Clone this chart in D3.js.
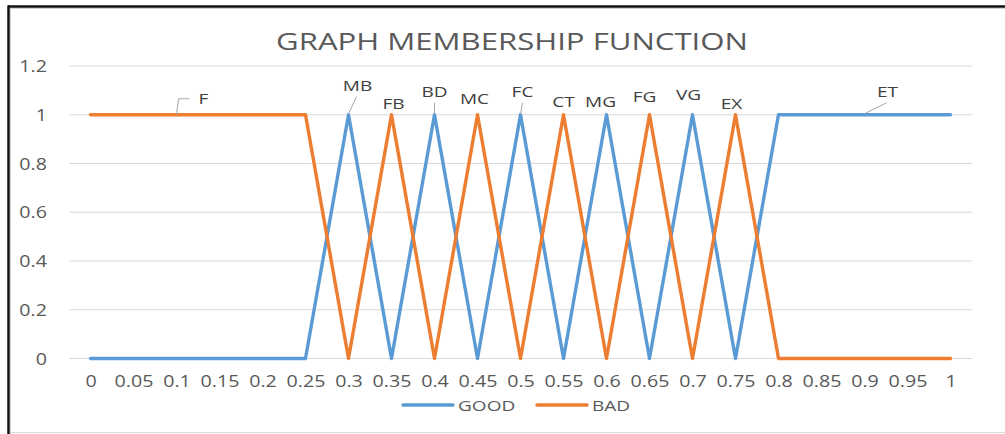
<!DOCTYPE html>
<html>
<head>
<meta charset="utf-8">
<script src="https://cdn.jsdelivr.net/npm/d3@7"></script>
<style>
  html, body { margin: 0; padding: 0; background: #fff; }
  svg { display: block; }
  text { font-family: "Open Sans", sans-serif; fill: #595959; }
</style>
</head>
<body>
<div id="chart"></div>
<script>
// --- Data ---
const categories = ['0', '0.05', '0.1', '0.15', '0.2', '0.25', '0.3', '0.35', '0.4', '0.45', '0.5',
  '0.55', '0.6', '0.65', '0.7', '0.75', '0.8', '0.85', '0.9', '0.95', '1'];
const goodValues = [0, 0, 0, 0, 0, 0, 1, 0, 1, 0, 1, 0, 1, 0, 1, 0, 1, 1, 1, 1, 1];
const badValues  = [1, 1, 1, 1, 1, 1, 0, 1, 0, 1, 0, 1, 0, 1, 0, 1, 0, 0, 0, 0, 0];
const yTicks = [0, 0.2, 0.4, 0.6, 0.8, 1, 1.2];
const seriesNames = ['GOOD', 'BAD'];

// data labels: text, which series, which category
const labelText   = ['F', 'MB', 'FB', 'BD', 'MC', 'FC', 'CT', 'MG', 'FG', 'VG', 'EX', 'ET'];
const labelSeries = ['BAD', 'GOOD', 'BAD', 'GOOD', 'BAD', 'GOOD', 'BAD', 'GOOD', 'BAD', 'GOOD', 'BAD', 'GOOD'];
const labelCat    = ['0.1', '0.3', '0.35', '0.4', '0.45', '0.5', '0.55', '0.6', '0.65', '0.7', '0.75', '0.9'];

// label placement (pixel offsets from the point), leader = draw a callout line
const labelOffset = [
  { dx: 27, dy: -16, leader: 'elbow' },
  { dx: 9, dy: -29, leader: 'line' },
  { dx: 2, dy: -11 },
  { dx: 0, dy: -23, leader: 'line' },
  { dx: -3, dy: -16 },
  { dx: 2, dy: -23, leader: 'line' },
  { dx: 0, dy: -13 },
  { dx: -6, dy: -13 },
  { dx: -5, dy: -18 },
  { dx: -4, dy: -20 },
  { dx: -4, dy: -11 },
  { dx: 23, dy: -23, leader: 'line' }
];

// --- Layout ---
const W = 1005, H = 434;
const plot = { left: 69, right: 972, top: 66, bottom: 358.5 };
const SX = 1.27; // the source picture is stretched horizontally
const colors = { GOOD: '#5B9BD5', BAD: '#ED7D31' };

const svg = d3.select('#chart').append('svg')
  .attr('width', W).attr('height', H);

// frame
svg.append('rect').attr('x', 0).attr('y', 0).attr('width', W).attr('height', H).attr('fill', '#fff');
svg.append('line').attr('x1', 10.5).attr('x2', W).attr('y1', 8.5).attr('y2', 8.5).attr('stroke', '#d0d0d0');
svg.append('line').attr('x1', 10.5).attr('x2', 10.5).attr('y1', 8.5).attr('y2', H).attr('stroke', '#d0d0d0');
svg.append('line').attr('x1', 10).attr('x2', W).attr('y1', 432.5).attr('y2', 432.5).attr('stroke', '#d9d9d9');
svg.append('line').attr('x1', 8).attr('x2', W).attr('y1', 6.5).attr('y2', 6.5).attr('stroke', '#111').attr('stroke-width', 2.5);
svg.append('line').attr('x1', 8.5).attr('x2', 8.5).attr('y1', 5.5).attr('y2', H).attr('stroke', '#111').attr('stroke-width', 2.5);

// stretched text helper
function stext(sel, x, y, str) {
  return sel.append('text')
    .attr('transform', `translate(${x},${y}) scale(${SX},1)`)
    .text(str);
}

// --- Scales ---
const x = d3.scalePoint().domain(categories).range([plot.left, plot.right]).padding(0.5);
const y = d3.scaleLinear().domain([0, 1.2]).range([plot.bottom, plot.top]);

// gridlines
svg.append('g').selectAll('line')
  .data(yTicks)
  .enter().append('line')
  .attr('x1', plot.left).attr('x2', plot.right)
  .attr('y1', d => y(d)).attr('y2', d => y(d))
  .attr('stroke', '#d9d9d9').attr('stroke-width', 1);

// y axis labels
const yAxis = d3.axisLeft(y).tickValues(yTicks).tickSize(0).tickPadding(22)
  .tickFormat(d => d3.format('~g')(d));
const yg = svg.append('g').attr('transform', `translate(${plot.left},0)`).call(yAxis);
yg.select('.domain').remove();
yg.selectAll('text').remove();
yg.selectAll('.tick').each(function(d) {
  stext(d3.select(this), -22, 5.5, d3.format('~g')(d))
    .attr('text-anchor', 'end').style('font-size', '15.5px');
});

// x axis labels
const xAxis = d3.axisBottom(x).tickSize(0);
const xg = svg.append('g').attr('transform', `translate(0,${plot.bottom})`).call(xAxis);
xg.select('.domain').remove();
xg.selectAll('text').remove();
xg.selectAll('.tick').each(function(d) {
  stext(d3.select(this), 0, 28.5, d)
    .attr('text-anchor', 'middle').style('font-size', '15.5px');
});

// title
stext(svg, 512, 50, 'GRAPH MEMBERSHIP FUNCTION')
  .attr('text-anchor', 'middle').style('font-size', '24.5px');

// --- Lines ---
const seriesData = { GOOD: goodValues, BAD: badValues };
const line = d3.line()
  .x((d, i) => x(categories[i]))
  .y(d => y(d));

svg.append('g').selectAll('path')
  .data(seriesNames)
  .enter().append('path')
  .attr('d', s => line(seriesData[s]))
  .attr('fill', 'none')
  .attr('stroke', s => colors[s])
  .attr('stroke-width', 3.4)
  .attr('stroke-linejoin', 'round')
  .attr('stroke-linecap', 'round');

// --- Data labels ---
const labels = svg.append('g');
labelText.forEach((t, i) => {
  const idx = categories.indexOf(labelCat[i]);
  const px = x(labelCat[i]);
  const py = y(seriesData[labelSeries[i]][idx]);
  const o = labelOffset[i];
  const tx = px + o.dx, ty = py + o.dy;
  if (o.leader === 'elbow') {
    labels.append('polyline')
      .attr('points', `${px},${py} ${px + 2},${ty} ${tx - 14},${ty}`)
      .attr('fill', 'none').attr('stroke', '#a6a6a6').attr('stroke-width', 1);
  } else if (o.leader === 'line') {
    const ex = o.dx > 5 ? tx - 1 : tx;
    labels.append('line')
      .attr('x1', px).attr('y1', py - 1)
      .attr('x2', ex).attr('y2', ty + 11)
      .attr('stroke', '#a6a6a6').attr('stroke-width', 1);
  }
  stext(labels, tx, ty + 5.5, t)
    .attr('text-anchor', 'middle').style('font-size', '15px').style('fill', '#404040');
});

// --- Legend ---
const legend = svg.append('g');
const legendX = [403, 537];
const legendY = 405;
seriesNames.forEach((s, i) => {
  legend.append('line')
    .attr('x1', legendX[i]).attr('x2', legendX[i] + 50)
    .attr('y1', legendY).attr('y2', legendY)
    .attr('stroke', colors[s]).attr('stroke-width', 3.4).attr('stroke-linecap', 'round');
  stext(legend, legendX[i] + 55, legendY + 5.5, s).style('font-size', '15px');
});
</script>
</body>
</html>
